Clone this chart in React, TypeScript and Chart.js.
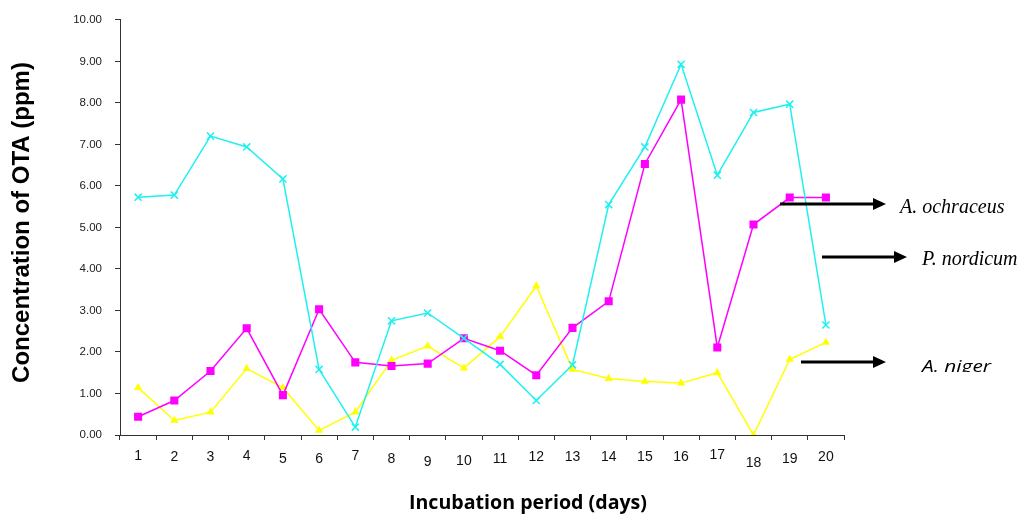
import React, { useEffect, useRef } from "react";
import { Chart, registerables } from "chart.js";

Chart.register(...registerables);

const days = ["1", "2", "3", "4", "5", "6", "7", "8", "9", "10", "11", "12", "13", "14", "15", "16", "17", "18", "19", "20"];
const pNordicum = [5.73, 5.78, 7.2, 6.94, 6.17, 1.58, 0.19, 2.75, 2.94, 2.33, 1.7, 0.83, 1.69, 5.55, 6.94, 8.93, 6.26, 7.77, 7.97, 2.65];
const aOchraceus = [0.44, 0.83, 1.54, 2.57, 0.96, 3.03, 1.75, 1.66, 1.72, 2.33, 2.03, 1.44, 2.58, 3.22, 6.53, 8.08, 2.11, 5.07, 5.72, 5.72];
const aNiger = [1.14, 0.35, 0.55, 1.6, 1.14, 0.11, 0.55, 1.8, 2.14, 1.61, 2.37, 3.59, 1.58, 1.36, 1.29, 1.25, 1.5, 0.0, 1.82, 2.23];
const yMin = 0;
const yMax = 10;
const yStep = 1;
const xTitle = "Incubation period (days)";
const yTitle = "Concentration of OTA (ppm)";
const seriesNames = ["A. ochraceus", "P. nordicum", "A. niger"];

// vertical nudges of the day labels (as in the original figure)
const labelNudge = [0, 1, 1, 0, 3, 3, 0, 3, 6, 5, 3, 1, 1, 1, 1, 1, -1, 7, 3, 1];

const decorPlugin = {
  id: "decor",
  afterDraw(chart: any) {
    const ctx = chart.ctx as CanvasRenderingContext2D;
    const xs = chart.scales.x;
    ctx.save();
    // x tick labels
    ctx.fillStyle = "#111";
    ctx.font = "14px 'Liberation Sans', Arial, sans-serif";
    ctx.textAlign = "center";
    ctx.textBaseline = "alphabetic";
    days.forEach((d, i) => {
      const x = xs.getPixelForTick(i);
      ctx.fillText(d, x, 460 + labelNudge[i]);
    });
    // x title
    ctx.font = "bold 20px 'Open Sans', sans-serif";
    ctx.fillStyle = "#000";
    ctx.fillText(xTitle, 528, 509, 238);
    // y title
    ctx.save();
    ctx.translate(28.5, 222.5);
    ctx.rotate(-Math.PI / 2);
    ctx.font = "bold 24px 'Liberation Sans', Arial, sans-serif";
    ctx.fillText(yTitle, 0, 0);
    ctx.restore();

    // arrows
    const arrow = (x1: number, x2: number, y: number) => {
      ctx.strokeStyle = "#000";
      ctx.fillStyle = "#000";
      ctx.lineWidth = 3;
      ctx.beginPath();
      ctx.moveTo(x1, y);
      ctx.lineTo(x2 - 10, y);
      ctx.stroke();
      ctx.beginPath();
      ctx.moveTo(x2, y);
      ctx.lineTo(x2 - 13, y - 6);
      ctx.lineTo(x2 - 13, y + 6);
      ctx.closePath();
      ctx.fill();
    };
    arrow(780, 886, 204);
    arrow(822, 907, 257);
    arrow(801, 886, 362);

    ctx.textAlign = "left";
    ctx.fillStyle = "#000";
    ctx.font = "italic 20px 'Liberation Serif', 'Times New Roman', serif";
    ctx.fillText(seriesNames[0], 900, 213);
    ctx.fillText(seriesNames[1], 922, 265);
    ctx.save();
    ctx.beginPath();
    ctx.rect(900, 340, 127, 32);
    ctx.clip();
    ctx.font = "italic 16px 'Open Sans', sans-serif";
    const w = ctx.measureText(seriesNames[2]).width;
    ctx.translate(922, 372);
    ctx.scale(69 / w, 1);
    ctx.fillText(seriesNames[2], 0, 0);
    ctx.restore();
    ctx.restore();
  },
};

export default function App() {
  const ref = useRef<HTMLCanvasElement>(null);
  useEffect(() => {
    document.body.style.margin = "0";
    const canvas = ref.current!;
    const chart = new Chart(canvas, {
      type: "line",
      data: {
        labels: days,
        datasets: [
          {
            label: seriesNames[1],
            data: pNordicum,
            borderColor: "#1ff0f0",
            backgroundColor: "#1ff0f0",
            borderWidth: 1.5,
            pointStyle: "crossRot",
            pointRadius: 5,
            pointBorderWidth: 1.5,
            order: 0,
            tension: 0,
          },
          {
            label: seriesNames[0],
            data: aOchraceus,
            borderColor: "#ff00ff",
            backgroundColor: "#ff00ff",
            borderWidth: 1.5,
            pointStyle: "rect",
            pointRadius: 5.7,
            pointBorderWidth: 0,
            order: 1,
            tension: 0,
          },
          {
            label: seriesNames[2],
            data: aNiger,
            borderColor: "#ffff00",
            backgroundColor: "#ffff00",
            borderWidth: 1.5,
            pointStyle: "triangle",
            pointRadius: 4.8,
            pointBorderWidth: 0,
            order: 2,
            tension: 0,
          },
        ],
      },
      options: {
        responsive: false,
        animation: false,
        layout: { padding: { left: 0, right: 183, top: 16, bottom: 0 } },
        plugins: { legend: { display: false }, tooltip: { enabled: false }, title: { display: false } },
        scales: {
          x: {
            type: "category",
            offset: true,
            grid: { offset: true, drawOnChartArea: false, drawTicks: true, tickLength: 5, color: "#333" },
            border: { display: true, color: "#333", width: 1 },
            ticks: { display: false },
            afterFit: (s: any) => {
              s.height = 83;
            },
          },
          y: {
            min: yMin,
            max: yMax,
            grid: { drawOnChartArea: false, drawTicks: true, tickLength: 5, color: "#333" },
            border: { display: true, color: "#333", width: 1 },
            ticks: {
              stepSize: yStep,
              padding: 13,
              color: "#222",
              font: { family: "'Liberation Sans', Arial, sans-serif", size: 11.5 },
              callback: (v: any) => Number(v).toFixed(2),
            },
            afterFit: (s: any) => {
              s.width = 120;
            },
          },
        },
      },
      plugins: [decorPlugin],
    });
    return () => chart.destroy();
  }, []);
  return (
    <div style={{ width: 1027, height: 518, background: "#fff" }}>
      <canvas ref={ref} width={1027} height={518} />
    </div>
  );
}
